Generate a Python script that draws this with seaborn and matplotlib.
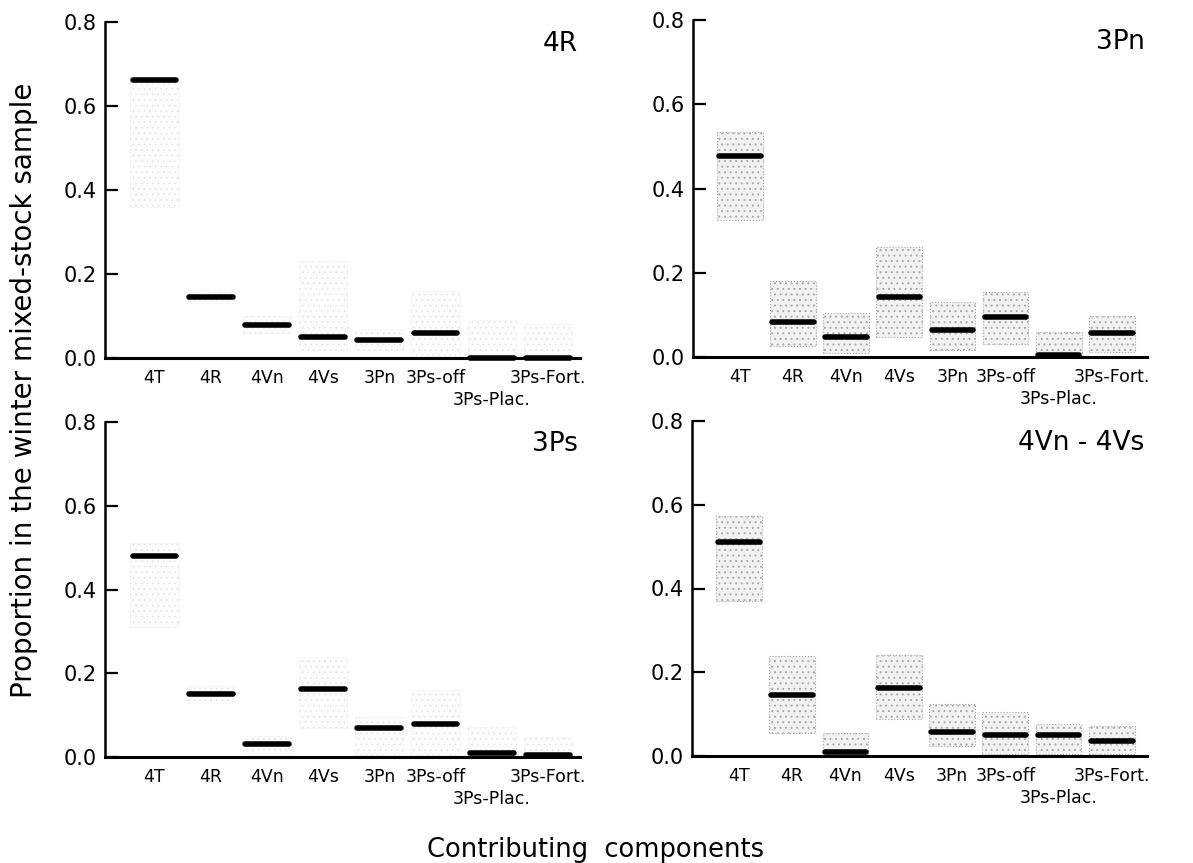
import numpy as np
import pandas as pd
import matplotlib
matplotlib.use("Agg")
import matplotlib.pyplot as plt
import seaborn as sns

# ---------------- data ----------------
categories = ["4T", "4R", "4Vn", "4Vs", "3Pn", "3Ps-off", "3Ps-Plac.", "3Ps-Fort."]
panel_titles = ["4R", "3Pn", "3Ps", "4Vn - 4Vs"]
yticks = [0.0, 0.2, 0.4, 0.6, 0.8]
ytick_labels = ["0.0", "0.2", "0.4", "0.6", "0.8"]

est_4R = [0.662, 0.145, 0.079, 0.050, 0.043, 0.060, 0.000, 0.000]
lo_4R = [0.360, 0.130, 0.060, 0.020, 0.020, 0.000, 0.000, 0.000]
hi_4R = [0.660, 0.160, 0.100, 0.230, 0.070, 0.160, 0.090, 0.080]

est_3Pn = [0.478, 0.083, 0.048, 0.143, 0.064, 0.095, 0.005, 0.056]
lo_3Pn = [0.325, 0.025, 0.010, 0.048, 0.017, 0.030, 0.000, 0.013]
hi_3Pn = [0.535, 0.180, 0.104, 0.262, 0.130, 0.155, 0.060, 0.097]

est_3Ps = [0.480, 0.150, 0.032, 0.163, 0.070, 0.078, 0.010, 0.005]
lo_3Ps = [0.310, 0.130, 0.010, 0.070, 0.004, 0.004, 0.000, 0.000]
hi_3Ps = [0.510, 0.170, 0.050, 0.240, 0.095, 0.160, 0.072, 0.048]

est_4V = [0.511, 0.145, 0.010, 0.163, 0.058, 0.050, 0.050, 0.036]
lo_4V = [0.370, 0.056, 0.000, 0.089, 0.024, 0.004, 0.004, 0.004]
hi_4V = [0.572, 0.238, 0.056, 0.242, 0.125, 0.105, 0.076, 0.072]

panels = [
    (est_4R, lo_4R, hi_4R),
    (est_3Pn, lo_3Pn, hi_3Pn),
    (est_3Ps, lo_3Ps, hi_3Ps),
    (est_4V, lo_4V, hi_4V),
]

# ---------------- style ----------------
sns.set_theme(style="ticks")
plt.rcParams["font.family"] = ["DejaVu Sans"]
plt.rcParams["hatch.color"] = "#9a9a9a"
plt.rcParams["hatch.linewidth"] = 0.7

W, H = 1193, 863
fig = plt.figure(figsize=(W / 100, H / 100), dpi=100)

# axes rectangles in pixel coords: (left, right, y of 0.8, y of 0.0)
rects = [
    (105, 580, 22, 358),
    (693, 1147, 20, 357),
    (105, 580, 422, 757),
    (692, 1147, 421, 756),
]
box_alpha = [0.16, 1.0, 0.16, 1.0]
xlims = [(-0.88, 7.57), (-0.88, 7.66), (-0.88, 7.57), (-0.88, 7.66)]

low_label = "3Ps-Plac."
tick_text = [c if c != low_label else "" for c in categories]

for i, (est, lo, hi) in enumerate(panels):
    l, r, yt, yb = rects[i]
    ax = fig.add_axes([l / W, 1 - yb / H, (r - l) / W, (yb - yt) / H])
    df = pd.DataFrame({
        "component": categories,
        "span": np.array(hi) - np.array(lo),
    })
    sns.barplot(data=df, x="component", y="span", order=categories,
                bottom=np.array(lo), width=0.86, errorbar=None,
                color="#f2f2f2", saturation=1, edgecolor="#a8a8a8", hatch="...",
                linewidth=0.8, linestyle=":", alpha=box_alpha[i], ax=ax,
                zorder=1)
    xs = np.arange(len(categories))
    lc = ax.hlines(est, xs - 0.39, xs + 0.39, colors="black",
                   linewidth=4.0, zorder=5, clip_on=False)
    lc.set_capstyle("round")

    ax.set_ylim(0, 0.8)
    ax.set_xlim(*xlims[i])
    ax.set_yticks(yticks)
    ax.set_yticklabels(ytick_labels, fontsize=15)
    ax.set_xticks(xs)
    ax.set_xticklabels(tick_text, fontsize=12.5)
    ax.annotate(low_label, xy=(categories.index(low_label), 0),
                xycoords=("data", "axes fraction"), xytext=(0, -24),
                textcoords="offset points", ha="center", va="top",
                fontsize=12.5, color="black")
    ax.tick_params(axis="y", direction="in", length=9, width=1.6, pad=6,
                   colors="black")
    ax.tick_params(axis="x", length=0, pad=8, colors="black")
    ax.set_xlabel("")
    ax.set_ylabel("")
    for s in ["top", "right"]:
        ax.spines[s].set_visible(False)
    ax.spines["left"].set_linewidth(1.8)
    ax.spines["bottom"].set_linewidth(2.2)
    ax.spines["left"].set_color("black")
    ax.spines["bottom"].set_color("black")
    ax.set_facecolor("white")
    ax.text(0.995, 0.935, panel_titles[i], transform=ax.transAxes,
            ha="right", va="center", fontsize=19, color="black")

fig.text(24 / W, 1 - 390 / H, "Proportion in the winter mixed-stock sample",
         rotation=90, ha="center", va="center", fontsize=20, color="black")
fig.text(596 / W, 1 - 857 / H, "Contributing  components",
         ha="center", va="baseline", fontsize=18.5, color="black")

fig.savefig("out.png", dpi=100, facecolor="white")
